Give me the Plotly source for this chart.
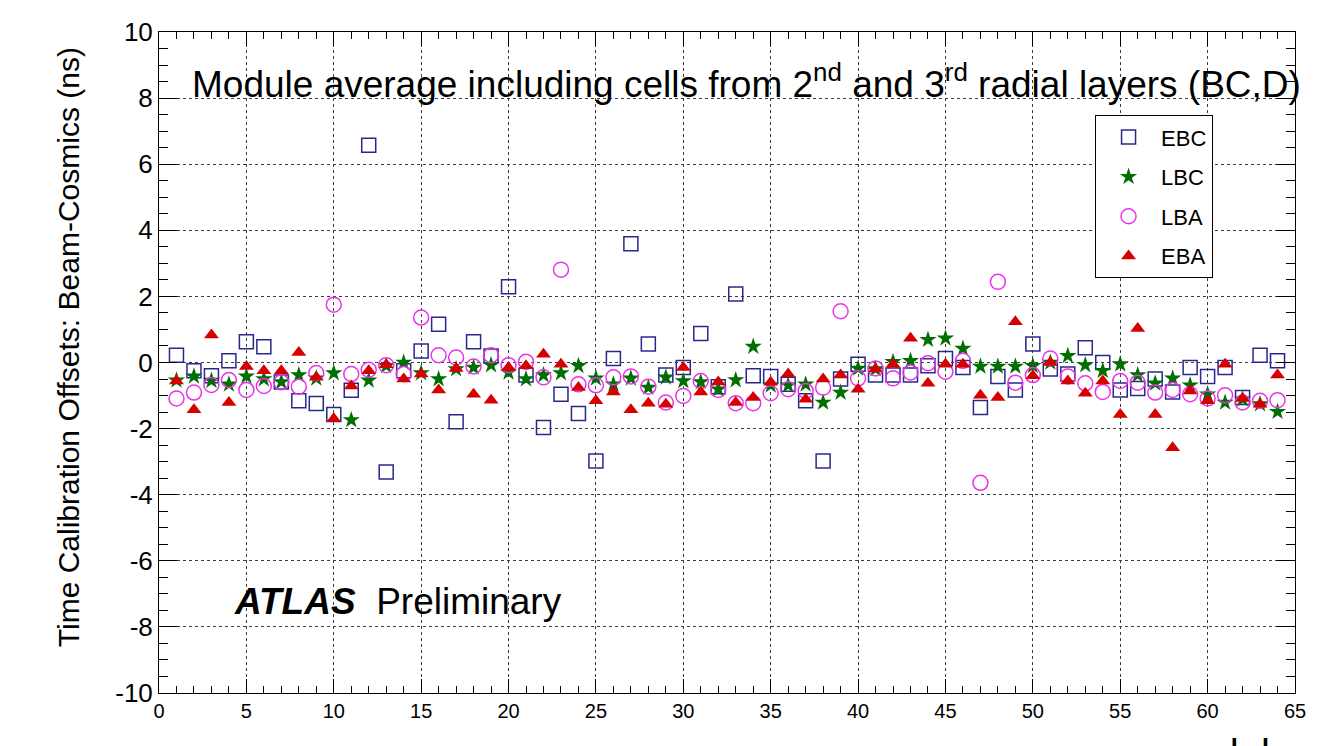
import plotly.graph_objects as go

modules = list(range(1, 65))

ebc = [0.22, -0.25, -0.40, 0.05, 0.63, 0.48, -0.59, -1.16, -1.24, -1.57,
       -0.84, 6.57, -3.31, -0.25, 0.35, 1.16, -1.79, 0.63, 0.20, 2.29,
       -0.38, -1.97, -0.96, -1.54, -2.98, 0.12, 3.59, 0.56, -0.38, -0.15,
       0.88, -0.73, 2.07, -0.40, -0.42, -0.66, -1.16, -2.98, -0.50, -0.05,
       -0.38, -0.38, -0.38, -0.10, 0.12, -0.15, -1.36, -0.42, -0.83, 0.56,
       -0.20, -0.35, 0.45, 0.00, -0.83, -0.79, -0.50, -0.89, -0.15, -0.42,
       -0.15, -1.06, 0.22, 0.05]

lbc = [-0.54, -0.42, -0.55, -0.66, -0.42, -0.50, -0.59, -0.38, -0.48, -0.32,
       -1.74, -0.54, -0.10, 0.00, -0.32, -0.50, -0.20, -0.15, -0.08, -0.30,
       -0.50, -0.38, -0.32, -0.10, -0.48, -0.66, -0.48, -0.76, -0.45, -0.56,
       -0.59, -0.81, -0.53, 0.48, -0.69, -0.69, -0.66, -1.21, -0.91, -0.18,
       -0.20, 0.02, 0.05, 0.69, 0.73, 0.42, -0.12, -0.12, -0.12, -0.10,
       0.00, 0.20, -0.08, -0.25, -0.05, -0.38, -0.63, -0.48, -0.69, -0.96,
       -1.21, -1.11, -1.26, -1.49]

lba = [-1.09, -0.91, -0.68, -0.53, -0.83, -0.71, -0.60, -0.73, -0.32, 1.75,
       -0.35, -0.22, -0.08, -0.35, 1.36, 0.22, 0.15, -0.12, 0.22, -0.08,
       0.02, -0.45, 2.81, -0.66, -0.69, -0.45, -0.42, -0.73, -1.21, -1.01,
       -0.56, -0.83, -1.23, -1.23, -0.93, -0.81, -0.86, -0.76, 1.55, -0.48,
       -0.18, -0.48, -0.30, -0.02, -0.28, 0.05, -3.64, 2.44, -0.61, -0.38,
       0.12, -0.42, -0.63, -0.89, -0.56, -0.61, -0.91, -0.83, -0.96, -1.09,
       -0.99, -1.21, -1.16, -1.14]

eba = [-0.56, -1.43, 0.83, -1.21, -0.12, -0.25, -0.25, 0.30, -0.45, -1.70,
       -0.71, -0.25, -0.07, -0.50, -0.35, -0.83, -0.18, -0.96, -1.14, -0.15,
       -0.10, 0.25, -0.05, -0.76, -1.16, -0.89, -1.43, -1.23, -1.26, -0.15,
       -0.89, -0.59, -1.21, -1.06, -0.60, -0.35, -1.11, -0.50, -0.38, -0.81,
       -0.20, -0.05, 0.73, -0.63, -0.05, -0.05, -0.99, -1.06, 1.23, -0.40,
       0.00, -0.56, -0.93, -0.56, -1.57, 1.03, -1.57, -2.58, -0.86, -1.16,
       -0.05, -1.09, -1.26, -0.38]

y_ticks = [-10, -8, -6, -4, -2, 0, 2, 4, 6, 8, 10]
y_tick_labels = ["-10", "-8", "-6", "-4", "-2", "0", "2", "4", "6", "8", "10"]

series = [
    ("EBC", ebc, dict(symbol="square-open", size=14, color="rgb(40,40,140)", line=dict(width=1.5))),
    ("LBC", lbc, dict(symbol="star", size=13, color="rgb(0,110,0)", line=dict(width=0))),
    ("LBA", lba, dict(symbol="circle-open", size=15, color="rgb(235,50,235)", line=dict(width=1.5))),
    ("EBA", eba, dict(symbol="triangle-up", size=13, color="rgb(215,0,0)", line=dict(width=0))),
]

fig = go.Figure()
for name, vals, mk in series:
    fig.add_trace(go.Scatter(x=modules, y=vals, mode="markers", name=name,
                             marker=mk, legendgroup=name))

axis_common = dict(showline=True, linecolor="black", linewidth=1, mirror="ticks",
                   ticks="inside", tickcolor="black", showgrid=True,
                   gridcolor="rgb(60,60,60)", griddash="dot", gridwidth=1,
                   zeroline=False)

fig.update_xaxes(range=[0, 65], dtick=5, tick0=0, ticklen=14,
                 tickfont=dict(family="Liberation Sans Narrow, Liberation Sans, Arial", size=20, color="black"),
                 minor=dict(ticks="inside", dtick=1, ticklen=7, tickcolor="black", showgrid=False),
                 **axis_common)
fig.update_yaxes(range=[-10, 10], tickmode="array", tickvals=y_ticks, ticktext=y_tick_labels,
                 ticklen=18,
                 tickfont=dict(family="Liberation Sans, Arial", size=26, color="black"),
                 minor=dict(ticks="inside", dtick=0.5, ticklen=9, tickcolor="black", showgrid=False),
                 **axis_common)

fig.add_annotation(xref="paper", yref="paper", x=-(159 - 68) / 1139, y=(693 - 347) / 661,
                   xanchor="center", yanchor="middle", textangle=-90,
                   text="Time Calibration Offsets: Beam-Cosmics (ns)", showarrow=False,
                   font=dict(family="Liberation Sans, Arial", size=30, color="black"))
fig.add_annotation(xref="paper", yref="paper", x=0.027, y=0.925, xanchor="left", yanchor="middle",
                   text="Module average including cells from 2<sup>nd</sup> and 3<sup>rd</sup> radial layers (BC,D)",
                   showarrow=False, font=dict(family="Liberation Sans, Arial", size=37, color="black"))
fig.add_annotation(xref="paper", yref="paper", x=0.064, y=0.138, xanchor="left", yanchor="middle",
                   text="<b><i>ATLAS</i></b>  Preliminary",
                   showarrow=False, font=dict(family="Liberation Sans, Arial", size=37, color="black"))
fig.add_annotation(xref="paper", yref="paper", x=0.999, y=-0.056, xanchor="right", yanchor="top",
                   text="module", showarrow=False,
                   font=dict(family="Liberation Sans, Arial", size=40, color="black"))

fig.update_layout(
    width=1318, height=746,
    margin=dict(l=159, r=20, t=32, b=53),
    paper_bgcolor="white", plot_bgcolor="white",
    font=dict(family="Liberation Sans, Arial", color="black"),
    legend=dict(x=0.824, y=0.874, xanchor="left", yanchor="top",
                bordercolor="black", borderwidth=1, bgcolor="white",
                font=dict(size=22, color="black"), tracegroupgap=8,
                itemwidth=55),
)

fig.write_html("out.html")
